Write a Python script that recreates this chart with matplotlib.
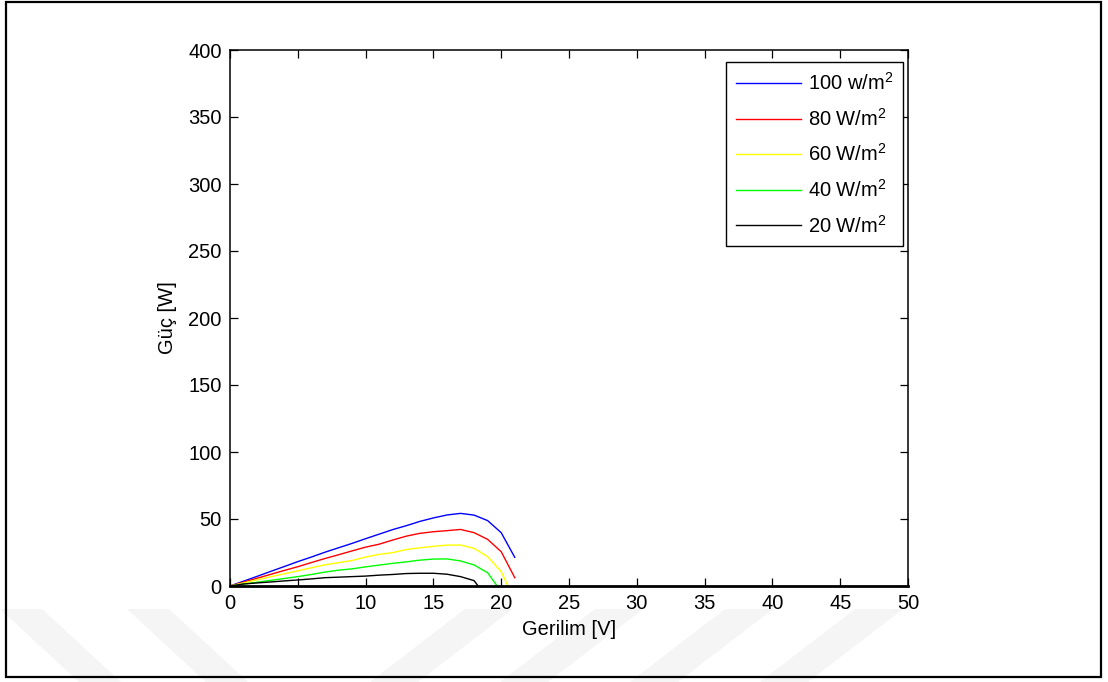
import numpy as np
import matplotlib
matplotlib.use('Agg')
import matplotlib.pyplot as plt
from matplotlib.patches import Rectangle, Polygon

plt.rcParams['font.family'] = ['Liberation Sans', 'DejaVu Sans']
plt.rcParams['mathtext.fontset'] = 'custom'
plt.rcParams['mathtext.rm'] = 'Liberation Sans'
plt.rcParams['mathtext.default'] = 'regular'

# --- data ---
v_100 = [0, 1, 2, 3, 4, 5, 6, 7, 8, 9, 10, 11, 12, 13, 14, 15, 16, 17, 18, 19, 20, 21]
p_100 = [0, 3.6, 7.2, 10.9, 14.5, 18.2, 21.6, 25.2, 28.5, 31.8, 35.3, 38.7,
         42.1, 45.0, 48.2, 50.8, 53.0, 54.2, 52.9, 48.8, 39.8, 21.4]

v_80 = [0, 1, 2, 3, 4, 5, 6, 7, 8, 9, 10, 11, 12, 13, 14, 15, 16, 17, 18, 19, 20, 21]
p_80 = [0, 2.9, 5.8, 8.7, 11.6, 14.4, 17.5, 20.5, 23.3, 26.2, 29.0, 31.2,
        34.3, 37.2, 39.3, 40.5, 41.3, 42.2, 39.8, 34.8, 25.6, 6.2]

v_60 = [0, 1, 2, 3, 4, 5, 6, 7, 8, 9, 10, 11, 12, 13, 14, 15, 16, 17, 18, 19, 20, 20.5]
p_60 = [0, 2.3, 4.6, 6.9, 9.1, 11.3, 13.6, 15.8, 17.4, 19.0, 21.6, 23.6,
        24.9, 27.2, 28.5, 29.6, 30.5, 30.6, 28.1, 21.9, 10.7, 0]

v_40 = [0, 1, 2, 3, 4, 5, 6, 7, 8, 9, 10, 11, 12, 13, 14, 15, 16, 17, 18, 19, 19.7]
p_40 = [0, 1.4, 2.8, 4.2, 5.6, 7.0, 8.6, 10.4, 11.8, 12.8, 14.3, 15.6,
        16.9, 18.0, 19.3, 20.1, 20.2, 18.7, 15.7, 9.9, 0]

v_20 = [0, 1, 2, 3, 4, 5, 6, 7, 8, 9, 10, 11, 12, 13, 14, 15, 16, 17, 18, 18.3]
p_20 = [0, 1.5, 2.3, 3.0, 3.8, 4.5, 5.3, 6.2, 6.6, 7.0, 7.4, 8.1,
        8.6, 9.3, 9.5, 9.5, 8.8, 7.0, 4.0, 0]

labels = ['100 w/m$^2$', '80 W/m$^2$', '60 W/m$^2$', '40 W/m$^2$', '20 W/m$^2$']
colors = ['#0000ff', '#ff0000', '#ffff00', '#00ff00', '#000000']
x_ticks = np.arange(0, 51, 5)
y_ticks = np.arange(0, 401, 50)

FS = 14.5
W, H = 1108, 682
fig = plt.figure(figsize=(W / 100, H / 100), dpi=100)

# faint watermark stripes at the bottom
wm_top, wm_bot = 1 - 609 / H, 0.0
wm_col = '#f5f5f5'
for x0 in (0, 127):
    pts = [(x0 / W, wm_top), ((x0 + 42) / W, wm_top),
           ((x0 + 42 + 79) / W, wm_bot), ((x0 + 79) / W, wm_bot)]
    fig.patches.append(Polygon(pts, closed=True, transform=fig.transFigure,
                               facecolor=wm_col, edgecolor='none', zorder=-2))
for x0 in (370, 500, 630, 760):
    pts = [(x0 / W, wm_bot), ((x0 + 48) / W, wm_bot),
           ((x0 + 48 + 95) / W, wm_top), ((x0 + 95) / W, wm_top)]
    fig.patches.append(Polygon(pts, closed=True, transform=fig.transFigure,
                               facecolor=wm_col, edgecolor='none', zorder=-2))

# outer frame
fig.patches.append(Rectangle((6 / W, 1 - 677 / H), (1101 - 6) / W, (677 - 1.5) / H,
                             transform=fig.transFigure, fill=False,
                             edgecolor='black', linewidth=1.6, zorder=5))

ax = fig.add_axes([230 / W, 1 - 586 / H, (908 - 230) / W, (586 - 50) / H])
ax.set_facecolor('white')

series = [(v_100, p_100), (v_80, p_80), (v_60, p_60), (v_40, p_40), (v_20, p_20)]
for (v, p), lab, c in zip(series, labels, colors):
    ax.plot(v, p, color=c, linewidth=1.0, label=lab)

ax.set_xlim(0, 50)
ax.set_ylim(0, 400)
ax.set_xticks(x_ticks)
ax.set_yticks(y_ticks)
ax.tick_params(direction='in', length=5.5, width=0.9, top=True, right=True,
               labelsize=FS, pad=6)
for s in ax.spines.values():
    s.set_linewidth(1.1)
ax.spines['bottom'].set_linewidth(2.0)

ax.set_xlabel('Gerilim [V]', fontsize=FS, labelpad=5)
ax.set_ylabel('Güç [W]', fontsize=FS, labelpad=8)

leg = ax.legend(loc='upper right', bbox_to_anchor=((903 - 230) / 678, (586 - 62) / 536),
                borderaxespad=0, fontsize=FS, frameon=True, fancybox=False,
                framealpha=1, edgecolor='black', handlelength=3.2,
                handletextpad=0.35, labelspacing=0.68, borderpad=0.5)
leg.get_frame().set_linewidth(1.0)

plt.savefig('out.png', dpi=100)
